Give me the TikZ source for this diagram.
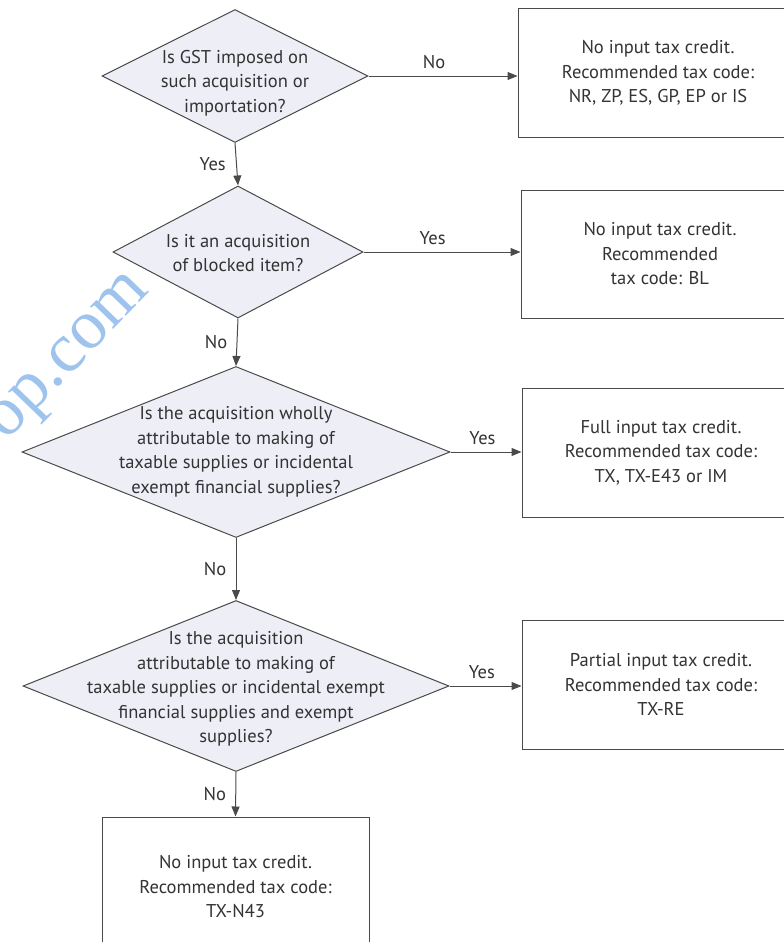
\documentclass[tikz,border=0pt]{standalone}
\usepackage{fontspec}
\setmainfont{PT Sans}
\newfontfamily\wmfont{Liberation Serif}
\usetikzlibrary{shapes.geometric,arrows.meta}
\definecolor{linec}{HTML}{4A4A4A}
\definecolor{textc}{HTML}{333333}
\definecolor{dfill}{HTML}{EEEEF7}
\definecolor{wm}{HTML}{9EC4EE}
\tikzset{
  dec/.style={diamond,draw=linec,fill=dfill,line width=1pt,inner sep=0pt,aspect=2},
  dtext/.style={align=center,text=textc,font=\fontsize{18.5}{24.5}\selectfont},
  outbox/.style={rectangle,draw=linec,line width=1pt,fill=white,align=center,text=textc,font=\fontsize{18.5}{24.5}\selectfont,inner sep=0pt},
  conn/.style={draw=linec,line width=1pt,-{Triangle[length=10pt,width=8pt]}},
  lbl/.style={text=textc,font=\fontsize{18.5}{20}\selectfont}
}
\begin{document}
\begin{tikzpicture}[x=1pt,y=-1pt]
\useasboundingbox (0,0) rectangle (784,942);
\fill[white] (0,0) rectangle (784,942);
% watermark
\node[text=wm,rotate=46,font=\wmfont\fontsize{70}{70}\selectfont,inner sep=0pt] (wmk) at (72,360) {op.com};
% diamonds
\node[dec,minimum width=266pt,minimum height=133pt] (d1) at (235,76) {};
\node[dtext] (d1t) at (235,83) {Is GST imposed on\\such acquisition or\\importation?};
\node[dec,minimum width=250pt,minimum height=132pt] (d2) at (238,252) {};
\node[dtext] (d2t) at (238,253) {Is it an acquisition\\of blocked item?};
\node[dec,minimum width=428pt,minimum height=171pt] (d3) at (236,452) {};
\node[dtext] (d3t) at (236,452) {Is the acquisition wholly\\attributable to making of\\taxable supplies or incidental\\exempt financial supplies?};
\node[dec,minimum width=426pt,minimum height=171pt] (d4) at (236,686) {};
\node[dtext] (d4t) at (236,689) {Is the acquisition\\attributable to making of\\taxable supplies or incidental exempt\\financial supplies and exempt\\supplies?};
% boxes
\node[outbox,minimum width=280pt,minimum height=128pt] (b1) at (658,73) {No input tax credit.\\Recommended tax code:\\NR, ZP, ES, GP, EP or IS};
\node[outbox,minimum width=278pt,minimum height=128pt] (b2) at (660,254) {No input tax credit.\\Recommended\\tax code: BL};
\node[outbox,minimum width=278pt,minimum height=129pt] (b3) at (661,452.5) {Full input tax credit.\\Recommended tax code:\\TX, TX-E43 or IM};
\node[outbox,minimum width=278pt,minimum height=129pt] (b4) at (661,684.5) {Partial input tax credit.\\Recommended tax code:\\TX-RE};
\node[outbox,minimum width=267pt,minimum height=140pt] (b5) at (235.5,887) {No input tax credit.\\Recommended tax code:\\TX-N43};
% connectors
\draw[conn] (d1.east) -- (d1.east -| b1.west) node[lbl,pos=0.44,above=3pt] (l1) {No};
\draw[conn] (d1.south) -- (d2.north) node[lbl,midway,left=7pt] (l2) {Yes};
\draw[conn] (d2.east) -- (d2.east -| b2.west) node[lbl,pos=0.44,above=3pt] (l3) {Yes};
\draw[conn] (d2.south) -- (d3.north) node[lbl,midway,left=6pt] (l4) {No};
\draw[conn] (d3.east) -- (d3.east -| b3.west) node[lbl,pos=0.45,above=3pt] (l5) {Yes};
\draw[conn] (d3.south) -- (d4.north) node[lbl,midway,left=6pt] (l6) {No};
\draw[conn] (d4.east) -- (d4.east -| b4.west) node[lbl,pos=0.45,above=3pt] (l7) {Yes};
\draw[conn] (d4.south) -- (b5.north) node[lbl,midway,left=6pt] (l8) {No};
\end{tikzpicture}
\end{document}
